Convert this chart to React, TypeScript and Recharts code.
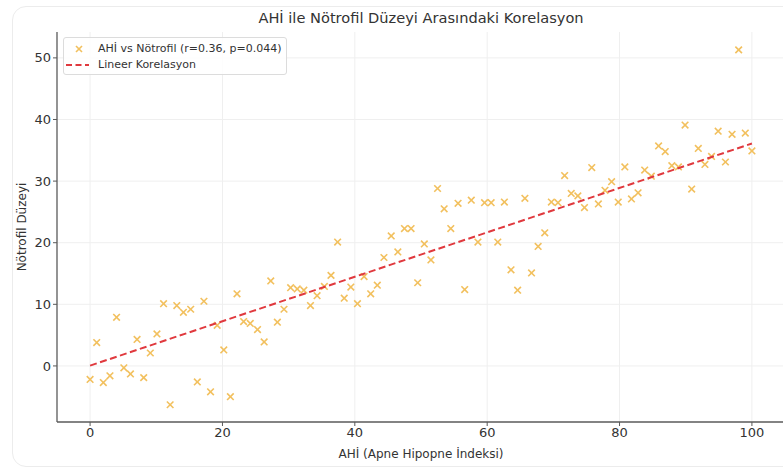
import React from 'react';
import { ScatterChart, Scatter, XAxis, YAxis, CartesianGrid, Legend } from 'recharts';

const ahi = [
  0, 1.0, 2.0, 3.0, 4.0, 5.1, 6.1, 7.1, 8.1, 9.1,
  10.1, 11.1, 12.1, 13.1, 14.1, 15.2, 16.2, 17.2, 18.2, 19.2,
  20.2, 21.2, 22.2, 23.2, 24.2, 25.3, 26.3, 27.3, 28.3, 29.3,
  30.3, 31.3, 32.3, 33.3, 34.3, 35.4, 36.4, 37.4, 38.4, 39.4,
  40.4, 41.4, 42.4, 43.4, 44.4, 45.5, 46.5, 47.5, 48.5, 49.5,
  50.5, 51.5, 52.5, 53.5, 54.5, 55.6, 56.6, 57.6, 58.6, 59.6,
  60.6, 61.6, 62.6, 63.6, 64.6, 65.7, 66.7, 67.7, 68.7, 69.7,
  70.7, 71.7, 72.7, 73.7, 74.7, 75.8, 76.8, 77.8, 78.8, 79.8,
  80.8, 81.8, 82.8, 83.8, 84.8, 85.9, 86.9, 87.9, 88.9, 89.9,
  90.9, 91.9, 92.9, 93.9, 94.9, 96.0, 97.0, 98.0, 99.0, 100,
];

const notrofil = [
  -2.2, 3.8, -2.7, -1.6, 7.9, -0.3, -1.3, 4.3, -1.9, 2.1,
  5.2, 10.1, -6.3, 9.8, 8.7, 9.2, -2.6, 10.5, -4.2, 6.6,
  2.6, -5.0, 11.7, 7.2, 6.9, 5.9, 3.9, 13.8, 7.1, 9.2,
  12.7, 12.5, 12.3, 9.8, 11.4, 12.9, 14.7, 20.1, 11.0, 12.8,
  10.1, 14.5, 11.7, 13.1, 17.6, 21.1, 18.5, 22.3, 22.3, 13.5,
  19.8, 17.2, 28.8, 25.5, 22.3, 26.4, 12.4, 26.9, 20.1, 26.5,
  26.5, 20.1, 26.6, 15.6, 12.3, 27.2, 15.1, 19.4, 21.6, 26.6,
  26.5, 30.9, 28.0, 27.6, 25.7, 32.2, 26.3, 28.5, 29.9, 26.6,
  32.3, 27.1, 28.1, 31.8, 30.8, 35.7, 34.8, 32.5, 32.3, 39.1,
  28.7, 35.3, 32.7, 34.0, 38.1, 33.1, 37.6, 51.3, 37.8, 34.9,
];

const fitX = [0, 100];
const fitY = [0.05, 36.1];

const xTicks = [0, 20, 40, 60, 80, 100];
const yTicks = [0, 10, 20, 30, 40, 50];

const title = 'AHİ ile Nötrofil Düzeyi Arasındaki Korelasyon';
const xLabel = 'AHİ (Apne Hipopne İndeksi)';
const yLabel = 'Nötrofil Düzeyi';
const scatterName = 'AHİ vs Nötrofil (r=0.36, p=0.044)';
const lineName = 'Lineer Korelasyon';

const scatterData = ahi.map((x, i) => ({ x, y: notrofil[i] }));
const fitData = fitX.map((x, i) => ({ x, y: fitY[i] }));

const MARK = '#F2C05E';
const RED = '#E0393E';
const FONT = '"DejaVu Sans", sans-serif';

const XMark = (props: any) => {
  const { cx, cy } = props;
  if (cx == null || cy == null) return <g />;
  const s = 3.3;
  return (
    <g stroke={MARK} strokeWidth={1.6}>
      <line x1={cx - s} y1={cy - s} x2={cx + s} y2={cy + s} />
      <line x1={cx - s} y1={cy + s} x2={cx + s} y2={cy - s} />
    </g>
  );
};

const NoShape = () => <g />;

const renderLegend = () => (
  <div
    style={{
      position: 'relative',
      width: 224,
      height: 38,
      boxSizing: 'border-box',
      border: '1px solid #dcdcdc',
      borderRadius: 3,
      background: 'rgba(255,255,255,0.85)',
      fontFamily: FONT,
      fontSize: 11,
      color: '#333',
    }}
  >
    <svg width={30} height={36} style={{ position: 'absolute', left: 0, top: 0 }}>
      <g stroke={MARK} strokeWidth={1.6}>
        <line x1={12} y1={8} x2={18} y2={14} />
        <line x1={12} y1={14} x2={18} y2={8} />
      </g>
      <line x1={2} y1={27} x2={25} y2={27} stroke={RED} strokeWidth={2} strokeDasharray="6 3.5" />
    </svg>
    <div style={{ position: 'absolute', left: 34, top: 4, lineHeight: '14px', whiteSpace: 'nowrap' }}>{scatterName}</div>
    <div style={{ position: 'absolute', left: 34, top: 20, lineHeight: '14px', whiteSpace: 'nowrap' }}>{lineName}</div>
  </div>
);

export default function App() {
  return (
    <div
      style={{
        position: 'absolute',
        left: 0,
        top: 0,
        width: 783,
        height: 469,
        overflow: 'hidden',
        background: '#fff',
      }}
    >
      <div
        style={{
          position: 'absolute',
          left: 12,
          top: 6,
          width: 800,
          height: 461,
          border: '1px solid #ececec',
          borderRadius: 14,
          boxSizing: 'border-box',
        }}
      />
      <div
        style={{
          position: 'absolute',
          left: 57,
          width: 728,
          top: 9,
          textAlign: 'center',
          fontFamily: FONT,
          fontSize: 14.6,
          color: '#333',
          lineHeight: '18px',
        }}
      >
        {title}
      </div>
      <div style={{ position: 'absolute', left: 0, top: 0 }}>
        <ScatterChart width={785} height={469} margin={{ top: 32, right: 0, bottom: 7, left: 0 }}>
          <CartesianGrid stroke="#efefef" strokeWidth={1} horizontalValues={yTicks} verticalValues={xTicks} />
          <XAxis
            type="number"
            dataKey="x"
            domain={[-5, 105]}
            ticks={xTicks}
            allowDataOverflow
            height={40}
            tickSize={4}
            tickMargin={2}
            axisLine={{ stroke: '#5a5a5a', strokeWidth: 1.3 }}
            tickLine={{ stroke: '#5a5a5a' }}
            tick={{ fill: '#333', fontSize: 13, fontFamily: FONT }}
            label={{ value: xLabel, position: 'insideBottom', offset: 4, fill: '#333', fontSize: 12, fontFamily: FONT }}
          />
          <YAxis
            type="number"
            dataKey="y"
            domain={[-9.1, 54.2]}
            ticks={yTicks}
            allowDataOverflow
            width={57}
            tickSize={4}
            tickMargin={2}
            axisLine={{ stroke: '#5a5a5a', strokeWidth: 1.3 }}
            tickLine={{ stroke: '#5a5a5a' }}
            tick={{ fill: '#333', fontSize: 13, fontFamily: FONT }}
            label={{
              value: yLabel,
              angle: -90,
              position: 'insideLeft',
              offset: 22,
              fill: '#333',
              fontSize: 12,
              fontFamily: FONT,
              style: { textAnchor: 'middle' },
            }}
          />
          <Legend
            layout="horizontal"
            verticalAlign="middle"
            align="center"
            wrapperStyle={{ left: 63, top: 37, width: 224, height: 38 }}
            content={renderLegend}
          />
          <Scatter
            name={scatterName}
            data={scatterData}
            shape={XMark}
            isAnimationActive={false}
          />
          <Scatter
            name={lineName}
            data={fitData}
            shape={NoShape}
            line={{ stroke: RED, strokeWidth: 2, strokeDasharray: '7 3.5' }}
            lineType="joint"
            isAnimationActive={false}
          />
        </ScatterChart>
      </div>
    </div>
  );
}
